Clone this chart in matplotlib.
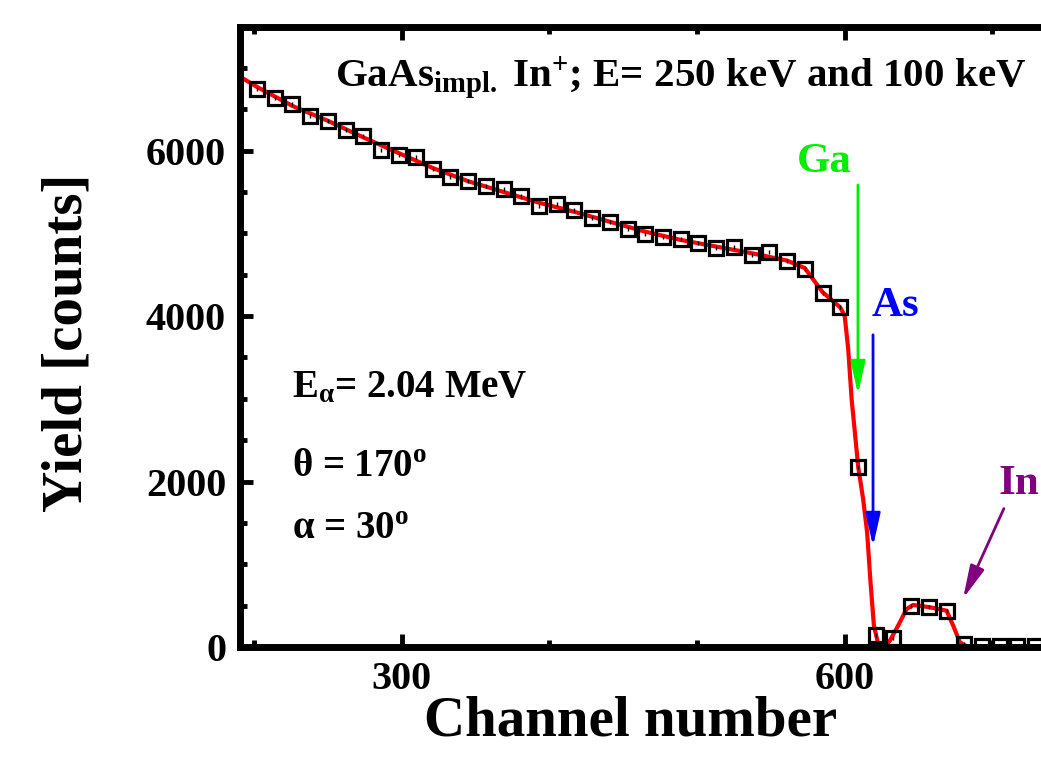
import matplotlib
matplotlib.use("Agg")
import matplotlib.pyplot as plt
from matplotlib.ticker import MultipleLocator

plt.rcParams['font.family'] = ['Liberation Serif', 'DejaVu Serif']
plt.rcParams['font.weight'] = 'bold'
plt.rcParams['axes.labelweight'] = 'bold'
plt.rcParams['mathtext.fontset'] = 'custom'
plt.rcParams['mathtext.rm'] = 'Liberation Serif:bold'
plt.rcParams['mathtext.it'] = 'Liberation Serif:bold'
plt.rcParams['mathtext.bf'] = 'Liberation Serif:bold'

# measured RBS spectrum (open squares)
channel = [202, 214, 226, 238, 250, 262, 274, 286, 298, 310, 321, 333, 345, 357,
           369, 381, 393, 405, 417, 429, 441, 453, 465, 477, 489, 501, 513, 525,
           537, 549, 561, 573, 585, 597, 609, 621, 633, 645, 657, 669, 681, 693,
           705, 717, 729, 741, 753]
counts = [6743, 6631, 6562, 6413, 6353, 6248, 6172, 6006, 5946, 5918, 5776, 5684,
          5628, 5567, 5535, 5446, 5333, 5353, 5281, 5181, 5132, 5051, 4991, 4951,
          4930, 4882, 4818, 4838, 4737, 4770, 4668, 4570, 4274, 4105, 2172, 149,
          109, 499, 480, 439, 36, 15, 12, 12, 12, 12, 12]

# simulated spectrum (red line)
fit_channel = [189, 202, 226, 250, 274, 298, 321, 345, 369, 393, 417, 441, 465,
               489, 513, 537, 561, 573, 585, 597, 600, 602.4, 604.7, 606.9, 609.2,
               612.5, 615.2, 617.5, 619.8, 622.7, 626.1, 630.6, 636.2, 641.9,
               646.4, 657.7, 669, 673.5, 678, 682.5, 800]
fit_counts = [6910, 6770, 6540, 6360, 6160, 5970, 5790, 5630, 5500, 5370, 5260,
              5140, 5020, 4920, 4840, 4760, 4670, 4580, 4290, 4105, 4004, 3601,
              2997, 2594, 2172, 1789, 1386, 782, 258, 36, -15, 76, 258, 459, 508,
              480, 439, 258, 57, 10, 5]

fig = plt.figure(figsize=(10.41, 7.57), dpi=100)
ax = fig.add_axes([240 / 1041, 110 / 757, 900 / 1041, 620.5 / 757])

ax.plot(fit_channel, fit_counts, color='red', lw=3, zorder=2)
ax.errorbar(channel, counts, yerr=25, fmt='s', ms=10, mfc='none', mec='black',
            mew=2.3, ecolor='black', elinewidth=1, capsize=0, zorder=3)

ax.set_xlim(190.5, 800)
ax.set_ylim(0, 7500)

ax.xaxis.set_major_locator(MultipleLocator(300))
ax.xaxis.set_minor_locator(MultipleLocator(100))
ax.yaxis.set_major_locator(MultipleLocator(2000))
ax.yaxis.set_minor_locator(MultipleLocator(500))
ax.tick_params(which='both', direction='in', top=True, right=True, width=3.5)
ax.tick_params(which='major', length=9.5, labelsize=29, pad=10)
ax.tick_params(which='minor', length=5)
for s in ax.spines.values():
    s.set_linewidth(5)

ax.set_xlabel('Channel number', fontsize=41, fontweight='bold')
ax.xaxis.set_label_coords(631 / 1041, 22 / 757, transform=fig.transFigure)
ax.xaxis.label.set_va('baseline')
ax.set_ylabel('Yield [counts]', fontsize=41, fontweight='bold')
ax.yaxis.set_label_coords(68 / 1041, 1 - 343 / 757, transform=fig.transFigure)
ax.yaxis.label.set_va('center')

ax.text(255, 6780, r'GaAs$_{\mathrm{impl.}}$ In$^{+}$; E= 250 keV and 100 keV',
        fontsize=29.5, va='baseline')
ax.text(226, 3020, r'E$_{\alpha}$= 2.04 MeV', fontsize=28, va='baseline')
ax.text(226, 2070, r'θ = 170$^{\mathrm{o}}$', fontsize=28, va='baseline')
ax.text(226, 1305, r'α = 30$^{\mathrm{o}}$', fontsize=28, va='baseline')

ax.text(567.7, 5740, 'Ga', color='#00ee00', fontsize=31, va='baseline')
ax.annotate('', xy=(609, 3021), xytext=(609, 5619),
            arrowprops=dict(arrowstyle='-|>,head_length=0.8,head_width=0.18',
                            color='#00ee00', lw=2, mutation_scale=25))
ax.text(618.5, 4000, 'As', color='blue', fontsize=31, va='baseline')
ax.annotate('', xy=(619.2, 1184), xytext=(619.2, 3807),
            arrowprops=dict(arrowstyle='-|>,head_length=0.8,head_width=0.18',
                            color='blue', lw=2, mutation_scale=25))
ax.text(704.5, 1849, 'In', color='purple', fontsize=31, va='baseline')
ax.annotate('', xy=(679.4, 556), xytext=(708.6, 1704),
            arrowprops=dict(arrowstyle='-|>,head_length=0.8,head_width=0.18',
                            color='purple', lw=2, mutation_scale=25))

fig.savefig('out.png', dpi=100)
